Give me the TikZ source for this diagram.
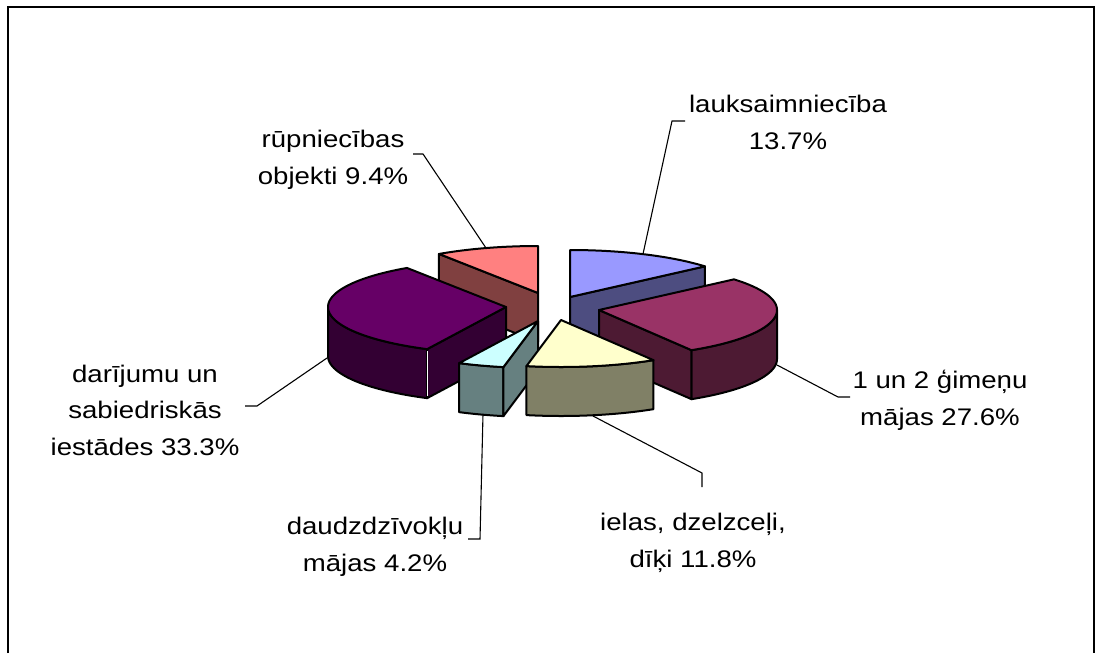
\documentclass[tikz,border=0pt]{standalone}
\usepackage{fontspec}
\setmainfont{Liberation Sans}[FakeStretch=1.15]
\definecolor{blueTop}{HTML}{9999FF}
\definecolor{blueSide}{HTML}{4D4D80}
\definecolor{maroonTop}{HTML}{993366}
\definecolor{maroonSide}{HTML}{4D1A33}
\definecolor{yellowTop}{HTML}{FFFFCC}
\definecolor{yellowSide}{HTML}{808066}
\definecolor{tealTop}{HTML}{CCFFFF}
\definecolor{tealSide}{HTML}{668080}
\definecolor{purpleTop}{HTML}{660066}
\definecolor{purpleSide}{HTML}{330033}
\definecolor{pinkTop}{HTML}{FF8080}
\definecolor{pinkSide}{HTML}{804040}
\def\piex{178}
\def\piey{47}
\def\pieh{49}
\newcommand\slicetop[5]{\filldraw[pieedge,fill=#5] (#1,#2) -- plot[domain=#3:#4,samples=60,variable=\t] ({#1+\piex*sin(\t)},{#2-\piey*cos(\t)}) -- cycle;}
\newcommand\sliceside[5]{\filldraw[pieedge,fill=#5] plot[domain=#3:#4,samples=60,variable=\t] ({#1+\piex*sin(\t)},{#2-\piey*cos(\t)}) -- plot[domain=#3:#4,samples=60,variable=\t] ({#1+\piex*sin(#3+#4-\t)},{#2+\pieh-\piey*cos(#3+#4-\t)}) -- cycle;}
\newcommand\sliceradial[4]{\filldraw[pieedge,fill=#4] (#1,#2) -- ({#1+\piex*sin(#3)},{#2-\piey*cos(#3)}) -- ++(0,\pieh) -- (#1,{#2+\pieh}) -- cycle;}
\begin{document}
\begin{tikzpicture}[x=1pt,y=-1pt,
  pieedge/.style={draw=black,line width=2pt,line join=round},
  lbl/.style={align=center,anchor=base,inner sep=0pt,font=\fontsize{24}{36.5}\selectfont},
  leader/.style={draw=black,line width=1.1pt}]
\useasboundingbox (0,0) rectangle (1099,653);
\fill[white] (0,0) rectangle (1099,653);
\draw[line width=2.2pt] (8,653) -- (8,7) -- (1094,7) -- (1094,653);
% pink: rupniecibas
\sliceradial{538}{293}{326.2}{pinkSide}
\slicetop{538}{293}{326.2}{360}{pinkTop}
% blue: lauksaimnieciba
\sliceradial{570}{297}{49.3}{blueSide}
\slicetop{570}{297}{0}{49.3}{blueTop}
% purple: darijumu
\sliceside{506}{307}{206.3}{270}{purpleSide}
\sliceradial{506}{307}{206.3}{purpleSide}
\draw[white,line width=0.7pt] (427.1,351) -- (427.1,396);
\slicetop{506}{307}{206.3}{326.2}{purpleTop}
% maroon: 1 un 2
\sliceside{599}{310}{90}{148.7}{maroonSide}
\sliceradial{599}{310}{148.7}{maroonSide}
\slicetop{599}{310}{49.3}{148.7}{maroonTop}
% teal: daudzdzivoklu
\sliceside{538}{321}{191.2}{206.3}{tealSide}
\sliceradial{538}{321}{191.2}{tealSide}
\slicetop{538}{321}{191.2}{206.3}{tealTop}
% yellow: ielas
\sliceside{561}{320}{148.7}{191.2}{yellowSide}
\slicetop{561}{320}{148.7}{191.2}{yellowTop}
% labels (anchor base = last line)
\node[lbl] (lauk) at (788,149) {lauksaimniecība\\13.7\%};
\node[lbl] (rup) at (333,184) {rūpniecības\\objekti 9.4\%};
\node[lbl] (dar) at (145,455) {darījumu un\\sabiedriskās\\iestādes 33.3\%};
\node[lbl] (gim) at (940,425) {1 un 2 ģimeņu\\mājas 27.6\%};
\node[lbl] (iel) at (693,567) {ielas, dzelzceļi,\\dīķi 11.8\%};
\node[lbl] (dau) at (375,571) {daudzdzīvokļu\\mājas 4.2\%};
% leader coordinates
\coordinate (laukP) at (643,254);
\coordinate (laukK) at (672,121);
\coordinate (laukT) at (685,121);
\coordinate (rupP) at (486,248);
\coordinate (rupK) at (423,154);
\coordinate (rupT) at (413,154);
\coordinate (darP) at (327,358);
\coordinate (darK) at (257,406);
\coordinate (darT) at (245,406);
\coordinate (gimP) at (777,365);
\coordinate (gimK) at (838,397);
\coordinate (gimT) at (850,397);
\coordinate (ielP) at (593,416);
\coordinate (ielK) at (702,473);
\coordinate (ielT) at (702,487);
\coordinate (dauP) at (483,414);
\coordinate (dauK) at (480,539);
\coordinate (dauT) at (468,539);
\draw[leader] (laukP) -- (laukK) -- (laukT);
\draw[leader] (rupP) -- (rupK) -- (rupT);
\draw[leader] (darP) -- (darK) -- (darT);
\draw[leader] (gimP) -- (gimK) -- (gimT);
\draw[leader] (ielP) -- (ielK) -- (ielT);
\draw[leader] (dauP) -- (dauK) -- (dauT);
\end{tikzpicture}
\end{document}
